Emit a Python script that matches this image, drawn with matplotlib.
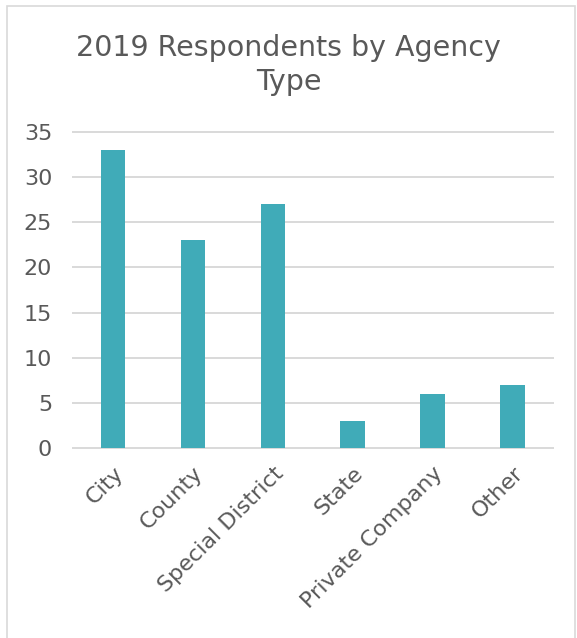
import matplotlib.pyplot as plt
from matplotlib.patches import Rectangle

categories = ["City", "County", "Special District", "State", "Private Company", "Other"]
counts = [33, 23, 27, 3, 6, 7]
yticks = [0, 5, 10, 15, 20, 25, 30, 35]

text_color = "#595959"
bar_color = "#40ABB8"
grid_color = "#D9D9D9"
font = "DejaVu Sans"

fig = plt.figure(figsize=(5.77, 6.38), dpi=100)
ax = fig.add_axes([0.1265, 0.2978, 0.8315, 0.4953])

x = range(len(categories))
ax.bar(x, counts, width=0.31, color=bar_color, zorder=3)
ax.set_xlim(-0.5, len(categories) - 0.5)
ax.set_ylim(0, 35)
ax.set_yticks(yticks)
ax.set_yticklabels([str(v) for v in yticks], fontsize=16, color=text_color, family=font)
ax.set_xticks(list(x))
ax.set_xticklabels(categories, rotation=45, ha="right", rotation_mode="anchor",
                   fontsize=16, color=text_color, family=font)
ax.tick_params(axis="y", length=0, pad=15)
ax.tick_params(axis="x", length=0, pad=11)
ax.yaxis.grid(True, color=grid_color, linewidth=1.4, zorder=0)
for gl in ax.get_ygridlines():
    gl.set_clip_on(False)
for s in ax.spines.values():
    s.set_visible(False)

fig.text(0.5, 0.898, "2019 Respondents by Agency\nType", ha="center", va="center",
         fontsize=20.5, color=text_color, family=font, linespacing=1.25)

fig.patches.append(Rectangle((7 / 577, -0.01), 568 / 577, 1 - 6 / 638 + 0.01,
                             transform=fig.transFigure, fill=False,
                             edgecolor=grid_color, linewidth=1.2))

fig.savefig("out.png", dpi=100)
